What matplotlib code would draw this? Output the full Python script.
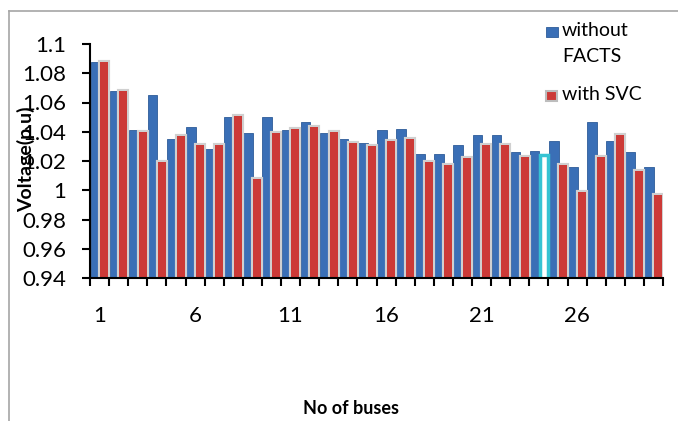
import matplotlib
matplotlib.use("Agg")

import matplotlib.pyplot as plt
import matplotlib.patheffects as pe
from matplotlib.patches import Rectangle
from matplotlib.lines import Line2D
import numpy as np


# --------------------------------------------------------
# Data
# --------------------------------------------------------

buses = np.arange(1, 31)

without_facts = [
    1.088, 1.068, 1.041, 1.065, 1.035, 1.043, 1.028, 1.050, 1.039, 1.050,
    1.041, 1.047, 1.039, 1.035, 1.032, 1.041, 1.042, 1.025, 1.025, 1.031,
    1.038, 1.038, 1.026, 1.027, 1.034, 1.016, 1.047, 1.034, 1.026, 1.016,
]

with_svc = [
    1.088, 1.068, 1.040, 1.019, 1.037, 1.031, 1.031, 1.051, 1.008, 1.039,
    1.042, 1.043, 1.040, 1.032, 1.030, 1.034, 1.035, 1.019, 1.017, 1.022,
    1.031, 1.031, 1.023, 1.024, 1.017, 0.999, 1.023, 1.038, 1.013, 0.997,
]

y_ticks = [0.94, 0.96, 0.98, 1.0, 1.02, 1.04, 1.06, 1.08, 1.1]
y_tick_labels = ["0.94", "0.96", "0.98", "1", "1.02", "1.04", "1.06", "1.08", "1.1"]
x_label_buses = [1, 6, 11, 16, 21, 26]

selected_bus = 24

BLUE = "#3a6fb6"
BLUE_EDGE = "#2d5c99"
RED = "#cc3a37"

W, H = 678, 421


def fx(px):
    return px / W


def fy(py):
    return 1 - py / H


plt.rcParams["font.family"] = ["Lato", "DejaVu Sans"]


# --------------------------------------------------------
# Figure
# --------------------------------------------------------

fig = plt.figure(figsize=(W / 100, H / 100), dpi=100)

ax = fig.add_axes([fx(90), fy(278), fx(663) - fx(90), fy(44) - fy(278)])

# outer chart frame (top and left edges visible)
fig.add_artist(Line2D([fx(9), 1.0], [fy(11), fy(11)], color="#a6a6a6", linewidth=1.2))
fig.add_artist(Line2D([fx(9), fx(9)], [fy(11), 0.0], color="#a6a6a6", linewidth=1.2))


# --------------------------------------------------------
# Bars
# --------------------------------------------------------

ax.bar(
    buses - 0.47,
    without_facts,
    width=0.5,
    align="edge",
    color=BLUE,
    edgecolor=BLUE_EDGE,
    linewidth=0.6,
    zorder=2,
)

red_bars = ax.bar(
    buses + 0.04,
    with_svc,
    width=0.42,
    align="edge",
    color=RED,
    linewidth=0,
    zorder=3,
)

for bus, bar in zip(buses, red_bars):
    bar.set_path_effects([
        pe.withStroke(linewidth=3.0, foreground="#d0d0d0"),
    ])
    if bus == selected_bus:
        bar.set_facecolor("white")
        bar.set_edgecolor("#36c3d3")
        bar.set_linewidth(2.5)
        bar.set_path_effects([])


# --------------------------------------------------------
# Axes
# --------------------------------------------------------

ax.set_xlim(0.5, 30.5)
ax.set_ylim(0.94, 1.1)

ax.set_yticks(y_ticks)
ax.set_yticklabels(y_tick_labels)
ax.tick_params(axis="y", length=6, width=1.5, pad=11, labelsize=16)

ax.set_xticks(np.arange(0.5, 31, 1))
ax.set_xticklabels([])
ax.tick_params(axis="x", which="major", length=6, width=1.5)

ax.set_xticks(x_label_buses, minor=True)
ax.set_xticklabels([str(b) for b in x_label_buses], minor=True)
ax.tick_params(axis="x", which="minor", length=0, pad=20, labelsize=16)

for side in ["top", "right"]:
    ax.spines[side].set_visible(False)

for side in ["left", "bottom"]:
    ax.spines[side].set_linewidth(1.5)

ax.spines["left"].set_zorder(5)
ax.spines["bottom"].set_zorder(5)


# --------------------------------------------------------
# Labels
# --------------------------------------------------------

fig.text(
    fx(26), fy(159),
    "Voltage(p.u)",
    rotation=90,
    fontsize=14,
    fontweight="bold",
    ha="center",
    va="center",
)

fig.text(
    fx(351), fy(408),
    "No of buses",
    fontsize=13,
    fontweight="bold",
    ha="center",
    va="center",
)


# --------------------------------------------------------
# Legend
# --------------------------------------------------------

fig.add_artist(Rectangle(
    (fx(546), fy(37)), fx(12), fy(0) - fy(10),
    facecolor=BLUE, edgecolor=BLUE_EDGE, linewidth=0.6,
))
fig.add_artist(Rectangle(
    (fx(546), fy(101)), fx(11), fy(0) - fy(10),
    facecolor=RED, edgecolor="#bdbdbd", linewidth=1.5,
))

fig.text(fx(562), fy(31), "without", fontsize=14, va="center")
fig.text(fx(562), fy(57), "FACTS", fontsize=14, va="center")
fig.text(fx(562), fy(95), "with SVC", fontsize=14, va="center")

fig.savefig("out.png", dpi=100)
